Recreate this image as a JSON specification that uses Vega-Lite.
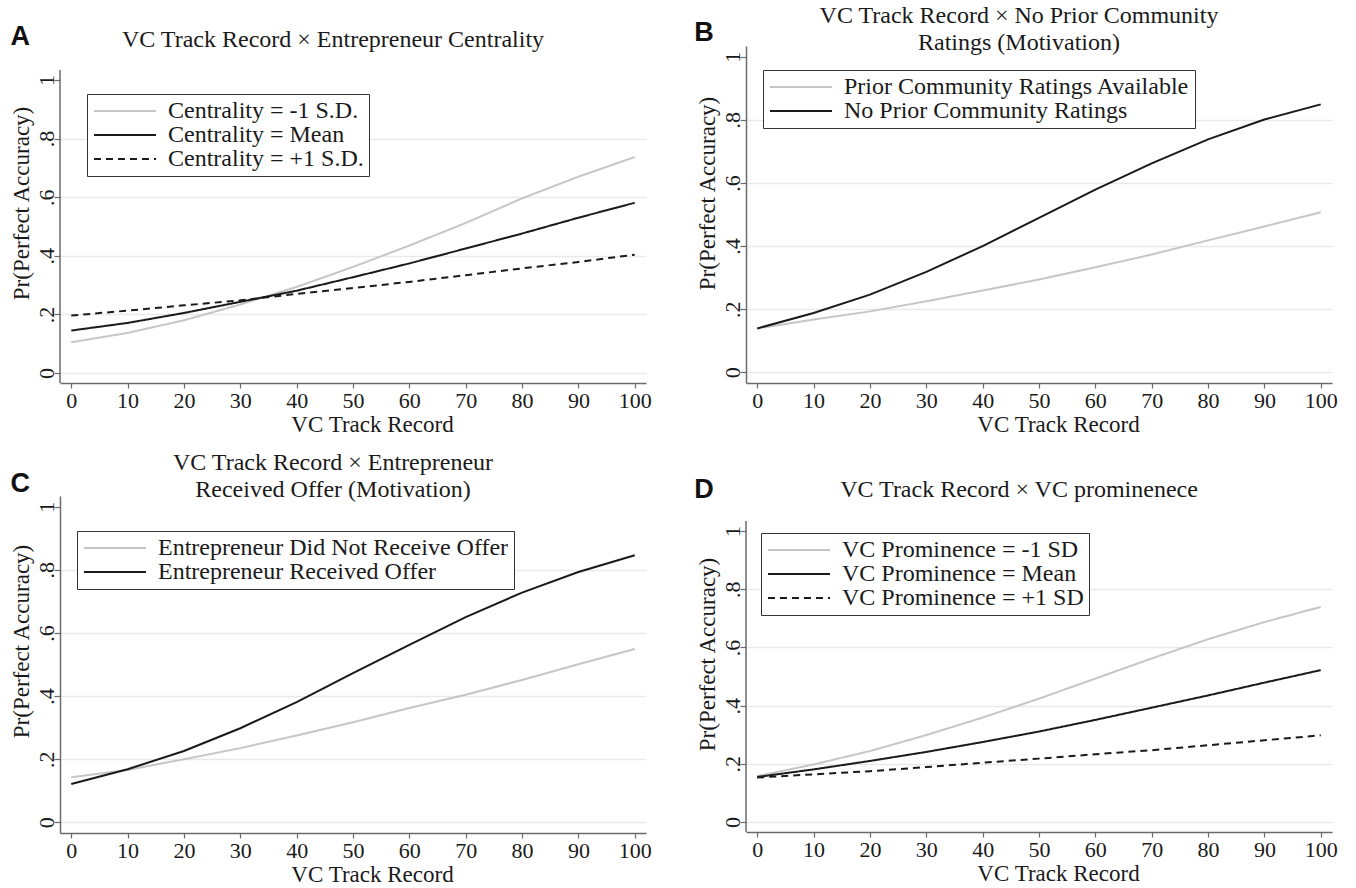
{
  "$schema": "https://vega.github.io/schema/vega-lite/v6.json",
  "background": "white",
  "padding": {"left": 10, "top": 4, "right": 5, "bottom": 0},
  "config": {
    "font": "Liberation Serif",
    "view": {"stroke": null},
    "axis": {"domainColor": "#6b6b6b", "domainWidth": 1.5, "tickColor": "#6b6b6b", "tickWidth": 1.2, "labelFont": "Liberation Serif", "titleFont": "Liberation Serif", "labelFontSize": 22, "labelColor": "#1a1a1a", "titleFontSize": 23, "titleFontWeight": "normal", "titleColor": "#1a1a1a"},
    "axisX": {"grid": false, "tickSize": 5, "labelPadding": 2, "titlePadding": 2, "labelFlush": false, "titleX": 312},
    "axisY": {"tickSize": 6, "labelAngle": -90, "labelAlign": "center", "labelBaseline": "alphabetic", "labelPadding": 1, "gridWidth": 1.5, "titleAngle": -90, "titleBaseline": "middle", "titleX": -39},
    "title": {"font": "Liberation Serif", "fontSize": 24, "fontWeight": "normal", "color": "#1a1a1a", "lineHeight": 27, "frame": "group", "anchor": "middle", "baseline": "bottom", "dx": -20},
    "legend": {"orient": "none", "title": null, "fillColor": "white", "strokeColor": "#333333", "padding": 5, "symbolType": "M-6,0H6", "symbolSize": 107, "symbolStrokeWidth": 2, "symbolOffset": 21, "labelOffset": 31, "labelFont": "Liberation Serif", "labelFontSize": 24, "labelColor": "#1a1a1a", "labelLimit": 800, "rowPadding": -2.5}
  },
  "datasets": {
    "d": [
      {"p": "A", "s": "Centrality = -1 S.D.", "x": 0, "y": 0.105}, {"p": "A", "s": "Centrality = -1 S.D.", "x": 10, "y": 0.137}, {"p": "A", "s": "Centrality = -1 S.D.", "x": 20, "y": 0.18}, {"p": "A", "s": "Centrality = -1 S.D.", "x": 30, "y": 0.234}, {"p": "A", "s": "Centrality = -1 S.D.", "x": 40, "y": 0.294}, {"p": "A", "s": "Centrality = -1 S.D.", "x": 50, "y": 0.362}, {"p": "A", "s": "Centrality = -1 S.D.", "x": 60, "y": 0.435}, {"p": "A", "s": "Centrality = -1 S.D.", "x": 70, "y": 0.512}, {"p": "A", "s": "Centrality = -1 S.D.", "x": 80, "y": 0.596}, {"p": "A", "s": "Centrality = -1 S.D.", "x": 90, "y": 0.67}, {"p": "A", "s": "Centrality = -1 S.D.", "x": 100, "y": 0.737},
      {"p": "A", "s": "Centrality = Mean", "x": 0, "y": 0.145}, {"p": "A", "s": "Centrality = Mean", "x": 10, "y": 0.171}, {"p": "A", "s": "Centrality = Mean", "x": 20, "y": 0.205}, {"p": "A", "s": "Centrality = Mean", "x": 30, "y": 0.243}, {"p": "A", "s": "Centrality = Mean", "x": 40, "y": 0.281}, {"p": "A", "s": "Centrality = Mean", "x": 50, "y": 0.327}, {"p": "A", "s": "Centrality = Mean", "x": 60, "y": 0.374}, {"p": "A", "s": "Centrality = Mean", "x": 70, "y": 0.425}, {"p": "A", "s": "Centrality = Mean", "x": 80, "y": 0.476}, {"p": "A", "s": "Centrality = Mean", "x": 90, "y": 0.53}, {"p": "A", "s": "Centrality = Mean", "x": 100, "y": 0.581},
      {"p": "A", "s": "Centrality = +1 S.D.", "x": 0, "y": 0.196}, {"p": "A", "s": "Centrality = +1 S.D.", "x": 10, "y": 0.213}, {"p": "A", "s": "Centrality = +1 S.D.", "x": 20, "y": 0.231}, {"p": "A", "s": "Centrality = +1 S.D.", "x": 30, "y": 0.248}, {"p": "A", "s": "Centrality = +1 S.D.", "x": 40, "y": 0.27}, {"p": "A", "s": "Centrality = +1 S.D.", "x": 50, "y": 0.29}, {"p": "A", "s": "Centrality = +1 S.D.", "x": 60, "y": 0.311}, {"p": "A", "s": "Centrality = +1 S.D.", "x": 70, "y": 0.334}, {"p": "A", "s": "Centrality = +1 S.D.", "x": 80, "y": 0.357}, {"p": "A", "s": "Centrality = +1 S.D.", "x": 90, "y": 0.379}, {"p": "A", "s": "Centrality = +1 S.D.", "x": 100, "y": 0.404},
      {"p": "B", "s": "Prior Community Ratings Available", "x": 0, "y": 0.139}, {"p": "B", "s": "Prior Community Ratings Available", "x": 10, "y": 0.167}, {"p": "B", "s": "Prior Community Ratings Available", "x": 20, "y": 0.193}, {"p": "B", "s": "Prior Community Ratings Available", "x": 30, "y": 0.225}, {"p": "B", "s": "Prior Community Ratings Available", "x": 40, "y": 0.259}, {"p": "B", "s": "Prior Community Ratings Available", "x": 50, "y": 0.294}, {"p": "B", "s": "Prior Community Ratings Available", "x": 60, "y": 0.333}, {"p": "B", "s": "Prior Community Ratings Available", "x": 70, "y": 0.373}, {"p": "B", "s": "Prior Community Ratings Available", "x": 80, "y": 0.418}, {"p": "B", "s": "Prior Community Ratings Available", "x": 90, "y": 0.462}, {"p": "B", "s": "Prior Community Ratings Available", "x": 100, "y": 0.507},
      {"p": "B", "s": "No Prior Community Ratings", "x": 0, "y": 0.139}, {"p": "B", "s": "No Prior Community Ratings", "x": 10, "y": 0.188}, {"p": "B", "s": "No Prior Community Ratings", "x": 20, "y": 0.246}, {"p": "B", "s": "No Prior Community Ratings", "x": 30, "y": 0.318}, {"p": "B", "s": "No Prior Community Ratings", "x": 40, "y": 0.4}, {"p": "B", "s": "No Prior Community Ratings", "x": 50, "y": 0.489}, {"p": "B", "s": "No Prior Community Ratings", "x": 60, "y": 0.579}, {"p": "B", "s": "No Prior Community Ratings", "x": 70, "y": 0.662}, {"p": "B", "s": "No Prior Community Ratings", "x": 80, "y": 0.738}, {"p": "B", "s": "No Prior Community Ratings", "x": 90, "y": 0.801}, {"p": "B", "s": "No Prior Community Ratings", "x": 100, "y": 0.849},
      {"p": "C", "s": "Entrepreneur Did Not Receive Offer", "x": 0, "y": 0.143}, {"p": "C", "s": "Entrepreneur Did Not Receive Offer", "x": 10, "y": 0.166}, {"p": "C", "s": "Entrepreneur Did Not Receive Offer", "x": 20, "y": 0.2}, {"p": "C", "s": "Entrepreneur Did Not Receive Offer", "x": 30, "y": 0.235}, {"p": "C", "s": "Entrepreneur Did Not Receive Offer", "x": 40, "y": 0.275}, {"p": "C", "s": "Entrepreneur Did Not Receive Offer", "x": 50, "y": 0.317}, {"p": "C", "s": "Entrepreneur Did Not Receive Offer", "x": 60, "y": 0.362}, {"p": "C", "s": "Entrepreneur Did Not Receive Offer", "x": 70, "y": 0.404}, {"p": "C", "s": "Entrepreneur Did Not Receive Offer", "x": 80, "y": 0.451}, {"p": "C", "s": "Entrepreneur Did Not Receive Offer", "x": 90, "y": 0.501}, {"p": "C", "s": "Entrepreneur Did Not Receive Offer", "x": 100, "y": 0.549},
      {"p": "C", "s": "Entrepreneur Received Offer", "x": 0, "y": 0.121}, {"p": "C", "s": "Entrepreneur Received Offer", "x": 10, "y": 0.168}, {"p": "C", "s": "Entrepreneur Received Offer", "x": 20, "y": 0.226}, {"p": "C", "s": "Entrepreneur Received Offer", "x": 30, "y": 0.298}, {"p": "C", "s": "Entrepreneur Received Offer", "x": 40, "y": 0.381}, {"p": "C", "s": "Entrepreneur Received Offer", "x": 50, "y": 0.473}, {"p": "C", "s": "Entrepreneur Received Offer", "x": 60, "y": 0.562}, {"p": "C", "s": "Entrepreneur Received Offer", "x": 70, "y": 0.65}, {"p": "C", "s": "Entrepreneur Received Offer", "x": 80, "y": 0.728}, {"p": "C", "s": "Entrepreneur Received Offer", "x": 90, "y": 0.793}, {"p": "C", "s": "Entrepreneur Received Offer", "x": 100, "y": 0.846},
      {"p": "D", "s": "VC Prominence = -1 SD", "x": 0, "y": 0.158}, {"p": "D", "s": "VC Prominence = -1 SD", "x": 10, "y": 0.198}, {"p": "D", "s": "VC Prominence = -1 SD", "x": 20, "y": 0.244}, {"p": "D", "s": "VC Prominence = -1 SD", "x": 30, "y": 0.299}, {"p": "D", "s": "VC Prominence = -1 SD", "x": 40, "y": 0.359}, {"p": "D", "s": "VC Prominence = -1 SD", "x": 50, "y": 0.424}, {"p": "D", "s": "VC Prominence = -1 SD", "x": 60, "y": 0.493}, {"p": "D", "s": "VC Prominence = -1 SD", "x": 70, "y": 0.562}, {"p": "D", "s": "VC Prominence = -1 SD", "x": 80, "y": 0.628}, {"p": "D", "s": "VC Prominence = -1 SD", "x": 90, "y": 0.687}, {"p": "D", "s": "VC Prominence = -1 SD", "x": 100, "y": 0.739},
      {"p": "D", "s": "VC Prominence = Mean", "x": 0, "y": 0.155}, {"p": "D", "s": "VC Prominence = Mean", "x": 10, "y": 0.181}, {"p": "D", "s": "VC Prominence = Mean", "x": 20, "y": 0.21}, {"p": "D", "s": "VC Prominence = Mean", "x": 30, "y": 0.241}, {"p": "D", "s": "VC Prominence = Mean", "x": 40, "y": 0.275}, {"p": "D", "s": "VC Prominence = Mean", "x": 50, "y": 0.311}, {"p": "D", "s": "VC Prominence = Mean", "x": 60, "y": 0.351}, {"p": "D", "s": "VC Prominence = Mean", "x": 70, "y": 0.393}, {"p": "D", "s": "VC Prominence = Mean", "x": 80, "y": 0.435}, {"p": "D", "s": "VC Prominence = Mean", "x": 90, "y": 0.479}, {"p": "D", "s": "VC Prominence = Mean", "x": 100, "y": 0.522},
      {"p": "D", "s": "VC Prominence = +1 SD", "x": 0, "y": 0.153}, {"p": "D", "s": "VC Prominence = +1 SD", "x": 10, "y": 0.164}, {"p": "D", "s": "VC Prominence = +1 SD", "x": 20, "y": 0.175}, {"p": "D", "s": "VC Prominence = +1 SD", "x": 30, "y": 0.189}, {"p": "D", "s": "VC Prominence = +1 SD", "x": 40, "y": 0.204}, {"p": "D", "s": "VC Prominence = +1 SD", "x": 50, "y": 0.218}, {"p": "D", "s": "VC Prominence = +1 SD", "x": 60, "y": 0.233}, {"p": "D", "s": "VC Prominence = +1 SD", "x": 70, "y": 0.247}, {"p": "D", "s": "VC Prominence = +1 SD", "x": 80, "y": 0.264}, {"p": "D", "s": "VC Prominence = +1 SD", "x": 90, "y": 0.281}, {"p": "D", "s": "VC Prominence = +1 SD", "x": 100, "y": 0.298}
    ]
  },
  "spacing": 14,
  "resolve": {"scale": {"color": "independent", "strokeDash": "independent"}, "legend": {"color": "independent", "strokeDash": "independent"}},
  "vconcat": [
    {
      "spacing": 42,
      "resolve": {"scale": {"color": "independent", "strokeDash": "independent"}, "legend": {"color": "independent", "strokeDash": "independent"}},
      "hconcat": [
        {
          "width": 586, "height": 337,
          "title": {"text": "VC Track Record × Entrepreneur Centrality", "offset": -29},
          "layer": [
            {
              "data": {"name": "d"},
              "transform": [{"filter": "datum.p == 'A'"}],
              "mark": {"type": "line", "strokeWidth": 2},
              "encoding": {
                "x": {"field": "x", "type": "quantitative", "scale": {"domain": [-2, 102], "nice": false, "zero": false}, "axis": {"title": "VC Track Record", "values": [0, 10, 20, 30, 40, 50, 60, 70, 80, 90, 100]}},
                "y": {"field": "y", "type": "quantitative", "scale": {"domain": [-0.034, 1.116], "nice": false, "zero": false}, "axis": {"title": "Pr(Perfect Accuracy)", "titleY": 157, "domain": false, "values": [0, 0.2, 0.4, 0.6, 0.8, 1], "labelExpr": "datum.value == 0 ? '0' : datum.value == 1 ? '1' : '.' + round(datum.value * 10)", "grid": true, "gridColor": {"condition": {"test": "datum.value > 0.9", "value": "transparent"}, "value": "#e9e9e9"}}},
                "color": {"field": "s", "type": "nominal", "scale": {"domain": ["Centrality = -1 S.D.", "Centrality = Mean", "Centrality = +1 S.D."], "range": ["#c6c6c6", "#1a1a1a", "#1a1a1a"]}, "legend": {"legendX": 27, "legendY": 48}},
                "strokeDash": {"field": "s", "type": "nominal", "scale": {"domain": ["Centrality = -1 S.D.", "Centrality = Mean", "Centrality = +1 S.D."], "range": [[1, 0], [1, 0], [7, 5]]}, "legend": {"legendX": 27, "legendY": 48}}
              }
            },
            {
              "data": {"values": [{}]},
              "mark": {"type": "rule", "color": "#6b6b6b", "strokeWidth": 1.5},
              "encoding": {"x": {"datum": -2}, "y": {"datum": -0.034}, "y2": {"datum": 1.034}}
            },
            {
              "data": {"values": [{"label": "A"}]},
              "mark": {"type": "text", "font": "Liberation Sans", "fontWeight": "bold", "fontSize": 27, "align": "center", "baseline": "middle", "color": "#111111", "clip": false},
              "encoding": {"x": {"datum": -9.05}, "y": {"datum": 1.147}, "text": {"field": "label"}}
            }
          ]
        },
        {
          "width": 586, "height": 337,
          "title": {"text": ["VC Track Record × No Prior Community", "Ratings (Motivation)"], "offset": -36},
          "layer": [
            {
              "data": {"name": "d"},
              "transform": [{"filter": "datum.p == 'B'"}],
              "mark": {"type": "line", "strokeWidth": 2},
              "encoding": {
                "x": {"field": "x", "type": "quantitative", "scale": {"domain": [-2, 102], "nice": false, "zero": false}, "axis": {"title": "VC Track Record", "values": [0, 10, 20, 30, 40, 50, 60, 70, 80, 90, 100]}},
                "y": {"field": "y", "type": "quantitative", "scale": {"domain": [-0.034, 1.034], "nice": false, "zero": false}, "axis": {"title": "Pr(Perfect Accuracy)", "titleY": 147, "values": [0, 0.2, 0.4, 0.6, 0.8, 1], "labelExpr": "datum.value == 0 ? '0' : datum.value == 1 ? '1' : '.' + round(datum.value * 10)", "grid": true, "gridColor": {"condition": {"test": "datum.value > 0.9", "value": "transparent"}, "value": "#e9e9e9"}}},
                "color": {"field": "s", "type": "nominal", "scale": {"domain": ["Prior Community Ratings Available", "No Prior Community Ratings"], "range": ["#c6c6c6", "#1a1a1a"]}, "legend": {"legendX": 17, "legendY": 24}}
              }
            },
            {
              "data": {"values": [{"label": "B"}]},
              "mark": {"type": "text", "font": "Liberation Sans", "fontWeight": "bold", "fontSize": 27, "align": "center", "baseline": "middle", "color": "#111111", "clip": false},
              "encoding": {"x": {"datum": -9.46}, "y": {"datum": 1.075}, "text": {"field": "label"}}
            }
          ]
        }
      ]
    },
    {
      "spacing": 42,
      "resolve": {"scale": {"color": "independent", "strokeDash": "independent"}, "legend": {"color": "independent", "strokeDash": "independent"}},
      "hconcat": [
        {
          "width": 586, "height": 337,
          "title": {"text": ["VC Track Record × Entrepreneur", "Received Offer (Motivation)"], "offset": -31.5},
          "layer": [
            {
              "data": {"name": "d"},
              "transform": [{"filter": "datum.p == 'C'"}],
              "mark": {"type": "line", "strokeWidth": 2},
              "encoding": {
                "x": {"field": "x", "type": "quantitative", "scale": {"domain": [-2, 102], "nice": false, "zero": false}, "axis": {"title": "VC Track Record", "values": [0, 10, 20, 30, 40, 50, 60, 70, 80, 90, 100]}},
                "y": {"field": "y", "type": "quantitative", "scale": {"domain": [-0.034, 1.034], "nice": false, "zero": false}, "axis": {"title": "Pr(Perfect Accuracy)", "titleY": 145, "values": [0, 0.2, 0.4, 0.6, 0.8, 1], "labelExpr": "datum.value == 0 ? '0' : datum.value == 1 ? '1' : '.' + round(datum.value * 10)", "grid": true, "gridColor": {"condition": {"test": "datum.value > 0.9", "value": "transparent"}, "value": "#e9e9e9"}}},
                "color": {"field": "s", "type": "nominal", "scale": {"domain": ["Entrepreneur Did Not Receive Offer", "Entrepreneur Received Offer"], "range": ["#c6c6c6", "#1a1a1a"]}, "legend": {"legendX": 17, "legendY": 35}}
              }
            },
            {
              "data": {"values": [{"label": "C"}]},
              "mark": {"type": "text", "font": "Liberation Sans", "fontWeight": "bold", "fontSize": 27, "align": "center", "baseline": "middle", "color": "#111111", "clip": false},
              "encoding": {"x": {"datum": -9.05}, "y": {"datum": 1.072}, "text": {"field": "label"}}
            }
          ]
        },
        {
          "width": 586, "height": 336,
          "title": {"text": "VC Track Record × VC prominenece", "offset": -26},
          "layer": [
            {
              "data": {"name": "d"},
              "transform": [{"filter": "datum.p == 'D'"}],
              "mark": {"type": "line", "strokeWidth": 2},
              "encoding": {
                "x": {"field": "x", "type": "quantitative", "scale": {"domain": [-2, 102], "nice": false, "zero": false}, "axis": {"title": "VC Track Record", "values": [0, 10, 20, 30, 40, 50, 60, 70, 80, 90, 100]}},
                "y": {"field": "y", "type": "quantitative", "scale": {"domain": [-0.034, 1.12], "nice": false, "zero": false}, "axis": {"title": "Pr(Perfect Accuracy)", "titleY": 158, "domain": false, "values": [0, 0.2, 0.4, 0.6, 0.8, 1], "labelExpr": "datum.value == 0 ? '0' : datum.value == 1 ? '1' : '.' + round(datum.value * 10)", "grid": true, "gridColor": {"condition": {"test": "datum.value > 0.9", "value": "transparent"}, "value": "#e9e9e9"}}},
                "color": {"field": "s", "type": "nominal", "scale": {"domain": ["VC Prominence = -1 SD", "VC Prominence = Mean", "VC Prominence = +1 SD"], "range": ["#c6c6c6", "#1a1a1a", "#1a1a1a"]}, "legend": {"legendX": 15, "legendY": 37}},
                "strokeDash": {"field": "s", "type": "nominal", "scale": {"domain": ["VC Prominence = -1 SD", "VC Prominence = Mean", "VC Prominence = +1 SD"], "range": [[1, 0], [1, 0], [7, 5]]}, "legend": {"legendX": 15, "legendY": 37}}
              }
            },
            {
              "data": {"values": [{}]},
              "mark": {"type": "rule", "color": "#6b6b6b", "strokeWidth": 1.5},
              "encoding": {"x": {"datum": -2}, "y": {"datum": -0.034}, "y2": {"datum": 1.034}}
            },
            {
              "data": {"values": [{"label": "D"}]},
              "mark": {"type": "text", "font": "Liberation Sans", "fontWeight": "bold", "fontSize": 27, "align": "center", "baseline": "middle", "color": "#111111", "clip": false},
              "encoding": {"x": {"datum": -9.46}, "y": {"datum": 1.14}, "text": {"field": "label"}}
            }
          ]
        }
      ]
    }
  ]
}
